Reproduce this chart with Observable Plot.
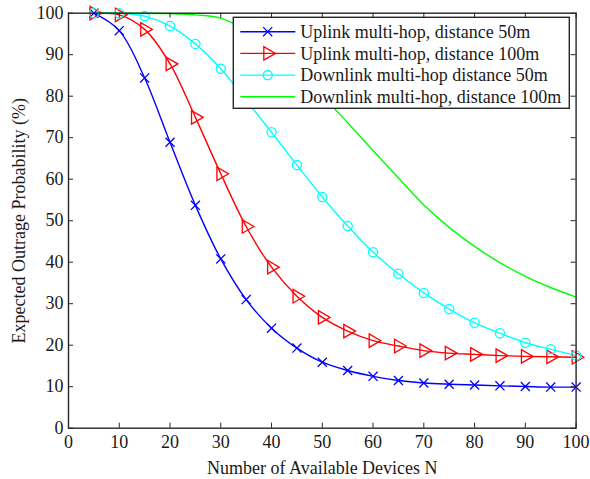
<!DOCTYPE html>
<html><head><meta charset="utf-8">
<script src="https://cdn.jsdelivr.net/npm/d3@7"></script>
<script src="https://cdn.jsdelivr.net/npm/@observablehq/plot@0.6"></script>
<style>
html,body{margin:0;padding:0;background:#fff;}
#chart{width:590px;height:479px;position:relative;}
</style></head><body><div id="chart"></div>
<script>
const devices = [5,10,15,20,25,30,35,40,45,50,55,60,65,70,75,80,85,90,95,100];
const uplink50 = [100,95.8,84.4,68.9,53.7,40.8,31.0,24.1,19.3,15.9,13.9,12.5,11.5,10.9,10.6,10.4,10.2,10.05,9.9,9.9];
const uplink100 = [100,99.6,96.1,87.8,74.9,61.3,48.6,38.8,31.8,26.7,23.4,21.1,19.8,18.7,18.1,17.8,17.5,17.3,17.2,17.1];
const downlink50 = [100,100,99.3,96.9,92.6,86.6,79.0,71.3,63.4,55.7,48.7,42.4,37.2,32.6,28.7,25.4,22.9,20.6,19.0,17.5];
const downlink100 = [100,100,100,99.9,99.6,98.8,95.8,91.2,85.8,80.0,73.6,66.9,60.3,53.8,48.4,43.8,39.9,36.6,33.9,31.6];
const seriesNames = ["Uplink multi-hop, distance 50m","Uplink multi-hop, distance 100m","Downlink multi-hop distance 50m","Downlink multi-hop, distance 100m"];
const xTicks = [0,10,20,30,40,50,60,70,80,90,100];
const yTicks = [0,10,20,30,40,50,60,70,80,90,100];
const xLabel = "Number of Available Devices N";
const yLabel = "Expected Outrage Probability (%)";

const styles = [
  {color:"#0000ff", symbol:"times", r:4.2, rotate:0},
  {color:"#ff0000", symbol:"triangle", r:5.0, rotate:90},
  {color:"#00ffff", symbol:"circle", r:4.6, rotate:0},
  {color:"#00ff00", symbol:null, r:0, rotate:0}
];
const valuesList = [uplink50, uplink100, downlink50, downlink100];
const tables = valuesList.map(v => devices.map((n,i)=>({n, p:v[i]})));

const W=590, H=479, mL=68, mR=14.4, mT=12.7, mB=51.3;
const plotH = H-mT-mB, plotW = W-mL-mR;
const tickLen = 5;
const axisColor = "#262626";
const font = "'Liberation Serif','Times New Roman',serif";

const marks = [];
tables.forEach((t,i)=>{
  marks.push(Plot.line(t, {x:"n", y:"p", stroke:styles[i].color, strokeWidth:1.4, curve:"catmull-rom"}));
});
tables.forEach((t,i)=>{
  const s = styles[i];
  if (s.symbol) marks.push(Plot.dot(t, {x:"n", y:"p", symbol:s.symbol, r:s.r, rotate:s.rotate, fill:"none", stroke:s.color, strokeWidth:1.3}));
});
marks.push(
  Plot.gridX(xTicks, {stroke:axisColor, strokeOpacity:1, strokeWidth:1, insetTop: plotH - tickLen}),
  Plot.gridX(xTicks, {stroke:axisColor, strokeOpacity:1, strokeWidth:1, insetBottom: plotH - tickLen}),
  Plot.gridY(yTicks, {stroke:axisColor, strokeOpacity:1, strokeWidth:1, insetRight: plotW - tickLen}),
  Plot.gridY(yTicks, {stroke:axisColor, strokeOpacity:1, strokeWidth:1, insetLeft: plotW - tickLen}),
  Plot.frame({stroke:axisColor, strokeWidth:1.4}),
  Plot.axisX(xTicks, {tickSize:0, tickPadding:7, fontSize:18, fill:"#1a1a1a", label:xLabel, labelAnchor:"center", labelArrow:"none", labelOffset:46}),
  Plot.axisY(yTicks, {tickSize:0, tickPadding:5, fontSize:18, fill:"#1a1a1a", label:yLabel, labelAnchor:"center", labelArrow:"none", labelOffset:56})
);

const chart = Plot.plot({
  width:W, height:H, marginLeft:mL, marginRight:mR, marginTop:mT, marginBottom:mB,
  style:{fontFamily:font, fontSize:"18px", color:"#000", background:"#fff", overflow:"visible"},
  x:{domain:[0,100]},
  y:{domain:[0,100]},
  marks
});
document.getElementById("chart").appendChild(chart);

// Legend box (decoration)
const svg = d3.select(chart);
const lg = svg.append("g").attr("font-family", font).attr("font-size", 18).attr("text-anchor","start");
const lx = 233.3, ly = 17.3, lw = 336, lh = 91;
lg.append("rect").attr("x",lx).attr("y",ly).attr("width",lw).attr("height",lh)
  .attr("fill","#fff").attr("stroke",axisColor).attr("stroke-width",1.4);
const symMap = {times:d3.symbolTimes, triangle:d3.symbolTriangle, circle:d3.symbolCircle};
seriesNames.forEach((name,i)=>{
  const s = styles[i];
  const cy = ly + 14.4 + i*21.7;
  lg.append("line").attr("x1",lx+7).attr("x2",lx+62).attr("y1",cy).attr("y2",cy)
    .attr("stroke",s.color).attr("stroke-width",1.4);
  if (s.symbol) {
    lg.append("path").attr("d", d3.symbol(symMap[s.symbol], s.r*s.r*Math.PI)())
      .attr("transform",`translate(${lx+34.4},${cy}) rotate(${s.rotate})`)
      .attr("fill","none").attr("stroke",s.color).attr("stroke-width",1.3);
  }
  lg.append("text").attr("x",lx+67).attr("y",cy).attr("dy","0.35em").attr("text-anchor","start").attr("fill","#1a1a1a").text(name);
});
</script></body></html>
